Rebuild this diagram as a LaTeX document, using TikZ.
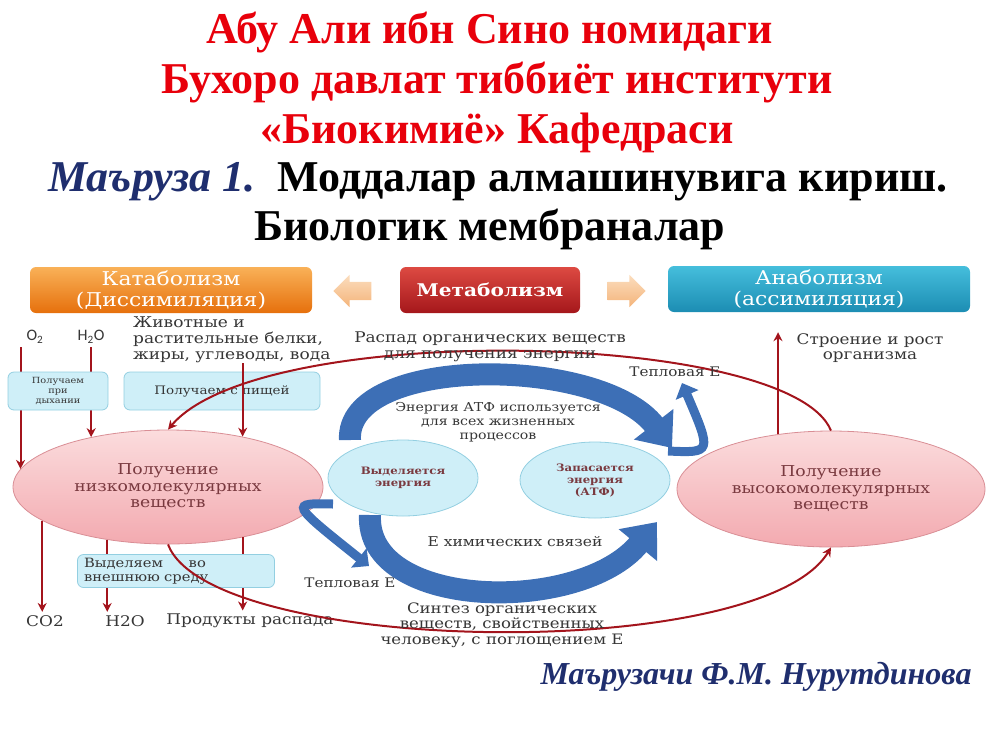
\documentclass[tikz,border=0pt]{standalone}
\usepackage{fontspec}
\setmainfont{Liberation Serif}
\newfontfamily\diagfont[FakeStretch=1.15]{DejaVu Serif}
\newfontfamily\chemfont{Carlito}
\usepackage{xcolor}
\definecolor{titlered}{HTML}{E8000B}
\definecolor{navy}{HTML}{1F2E6E}
\definecolor{ink}{HTML}{363636}
\definecolor{maroon}{HTML}{7A3A40}
\definecolor{catTop}{HTML}{F9B158}
\definecolor{catBot}{HTML}{E6700C}
\definecolor{metTop}{HTML}{DD4A42}
\definecolor{metBot}{HTML}{A5171B}
\definecolor{anaTop}{HTML}{45BEDC}
\definecolor{anaBot}{HTML}{1C8DB3}
\definecolor{paleTop}{HTML}{FBDDBE}
\definecolor{paleBot}{HTML}{F4B47A}
\definecolor{skyFill}{HTML}{CFEFF8}
\definecolor{skyLine}{HTML}{93CFE1}
\definecolor{pinkTop}{HTML}{FBDCDD}
\definecolor{pinkBot}{HTML}{F3AAB0}
\definecolor{pinkLine}{HTML}{D98E95}
\definecolor{wineLine}{HTML}{A3141C}
\definecolor{arcBlue}{HTML}{3D6FB6}
\usepackage{tikz}
\usetikzlibrary{shapes.geometric, shapes.arrows, arrows.meta, positioning, calc}

\begin{document}
\begin{tikzpicture}[
    x=1pt, y=-1pt,
    font=\diagfont\fontsize{14.7}{15.5}\selectfont, text=ink,
    >=Stealth,
    headbox/.style={rounded corners=6pt, minimum height=46pt, align=center, text=white, draw=none,
                    font=\diagfont\fontsize{19}{20.5}\selectfont},
    palearrow/.style={single arrow, minimum height=38pt, inner xsep=0pt, inner ysep=9pt,
                      single arrow head extend=7pt, top color=paleTop, bottom color=paleBot, draw=none},
    skybox/.style={draw=skyLine, fill=skyFill, rounded corners=6pt, line width=0.8pt, align=center,
                   font=\diagfont\fontsize{8.5}{10}\selectfont},
    pinkell/.style={ellipse, draw=pinkLine, line width=0.8pt, top color=pinkTop, bottom color=pinkBot,
                    align=center, text=maroon, inner sep=0pt, font=\diagfont\fontsize{15}{16.5}\selectfont},
    skyell/.style={ellipse, draw=skyLine, line width=0.8pt, fill=skyFill, minimum width=150pt,
                   minimum height=76pt, align=center, text=maroon, inner sep=0pt,
                   font=\diagfont\bfseries\fontsize{10.2}{12}\selectfont},
    redarr/.style={->, draw=wineLine, line width=2pt, >={Stealth[length=9pt, width=9pt]}},
    bigblue/.style={draw=arcBlue, line width=22pt, -{Triangle[length=30pt, width=48pt]}},
    smallblue/.style={draw=arcBlue, line width=9pt, -{Triangle[length=13pt, width=24pt]}},
    titleline/.style={font=\bfseries\fontsize{44}{46}\selectfont, text=titlered}
]
\useasboundingbox (0,0) rectangle (1000,750);

% ── Title ──
\node[titleline] (t1) at (490, 32) {Абу Али ибн Сино номидаги};
\node[titleline] (t2) at (497, 82) {Бухоро давлат тиббиёт институти};
\node[titleline] (t3) at (497, 133) {«Биокимиё» Кафедраси};
\node[font=\bfseries\fontsize{44}{46}\selectfont, text=black] (t4) at (498, 182)
     {{\color{navy}\itshape Маъруза 1.}\ \ Моддалар алмашинувига кириш.};
\node[font=\bfseries\fontsize{44}{46}\selectfont, text=black] (t5) at (490, 229) {Биологик мембраналар};

% ── Header boxes ──
\node[headbox, minimum width=282pt, top color=catTop, bottom color=catBot] (cat) at (171, 290)
     {Катаболизм\\(Диссимиляция)};
\node[headbox, minimum width=180pt, top color=metTop, bottom color=metBot,
      font=\diagfont\bfseries\fontsize{17.5}{20}\selectfont] (met) at (490, 290) {Метаболизм};
\node[headbox, minimum width=302pt, top color=anaTop, bottom color=anaBot] (ana) at (819, 289)
     {Анаболизм\\(ассимиляция)};
\node[palearrow, shape border rotate=180] (la) at (357, 291) {};
\node[palearrow] (ra) at (622, 291) {};

% ── Ellipses ──
\node[pinkell, minimum width=310pt, minimum height=114pt] (loE) at (168, 487)
     {Получение\\низкомолекулярных\\веществ};
\node[pinkell, minimum width=308pt, minimum height=116pt] (hiE) at (831, 489)
     {Получение\\высокомолекулярных\\веществ};
\node[skyell] (rel) at (403, 478) {Выделяется\\энергия};
\node[skyell] (sto) at (595, 480) {Запасается\\энергия\\(АТФ)};

% ── Left inputs ──
\node[font=\chemfont\fontsize{16}{18}\selectfont] (o2) at (35, 337) {O\textsubscript{2}};
\node[font=\chemfont\fontsize{16}{18}\selectfont] (h2o) at (91, 337) {H\textsubscript{2}O};
\node[anchor=north west, align=left, inner sep=0pt, font=\diagfont\fontsize{14.8}{16}\selectfont] (food)
     at (133, 317) {Животные и\\растительные белки,\\жиры, углеводы, вода};
\draw[redarr] (o2.south -| loE.173) -- (loE.173);
\draw[redarr] (h2o.south -| loE.147) -- (loE.147);
\node[skybox, minimum width=100pt, minimum height=38pt] (breath) at (58, 391) {Получаем\\при\\дыхании};
\node[skybox, minimum width=196pt, minimum height=38pt, font=\diagfont\fontsize{11.7}{13}\selectfont]
     (meal) at (222, 391) {Получаем с пищей};
\draw[redarr] (food.south -| loE.34) -- (loE.34);

% ── Left outputs ──
\node (co2) at (45, 621) {CO2};
\node (h2ob) at (125, 621) {H2O};
\node (prod) at (250, 621) {Продукты распада};
\draw[redarr] (loE.195) -- (loE.195 |- co2.north);
\draw[redarr] (loE.221) -- (loE.221 |- co2.north);
\draw[redarr] (loE.326) -- (loE.326 |- prod.north);
\node[skybox, minimum width=197pt, minimum height=33pt, text width=184pt, align=left,
      font=\diagfont\fontsize{12.8}{14}\selectfont]
     (outbox) at (176, 571) {Выделяем\hspace{2em}во\\внешнюю среду};

% ── Anabolism side ──
\node[align=center, font=\diagfont\fontsize{14.6}{15.5}\selectfont] (grow) at (870, 348)
     {Строение и рост\\организма};
\draw[redarr, shorten >=20pt] (hiE.134) -- (hiE.134 |- ana.south);

% ── Long red arcs ──
\draw[redarr] (hiE.north) .. controls (790, 330) and (260, 320) .. (loE.north);
\draw[redarr] (loE.south) .. controls (210, 655) and (760, 665) .. (hiE.south);

% ── Centre texts ──
\node[align=center] (decay) at (490, 347) {Распад органических веществ\\для получения энергии};
\node[font=\diagfont\fontsize{13.2}{15}\selectfont] (heatR) at (675, 372) {Тепловая Е};
\node[align=center, font=\diagfont\fontsize{12.3}{14}\selectfont] (atp) at (498, 422)
     {Энергия АТФ используется\\для всех жизненных\\процессов};
\node[font=\diagfont\fontsize{13.5}{15}\selectfont] (chem) at (515, 542) {Е химических связей};
\node[font=\diagfont\fontsize{13.2}{15}\selectfont] (heatL) at (350, 583) {Тепловая Е};
\node[align=center, font=\diagfont\fontsize{14.4}{15.5}\selectfont] (synth) at (502, 625)
     {Синтез органических\\веществ, свойственных\\человеку, с поглощением Е};

% ── Blue cycle arrows ──
\coordinate (topA) at (350, 440);
\coordinate (topB) at (672, 448);
\coordinate (botA) at (370, 515);
\coordinate (botB) at (657, 522);
\draw[bigblue] (topA) .. controls (345, 355) and (600, 355) .. (topB);
\draw[bigblue] (botA) .. controls (365, 610) and (580, 615) .. (botB);

\coordinate (jR) at (668, 451);
\coordinate (jRtip) at (682, 383);
\coordinate (jL) at (333, 504);
\coordinate (jLtip) at (369, 566);
\draw[smallblue] (jR) .. controls (712, 453) .. (jRtip);
\draw[smallblue] (jL) .. controls (290, 503) .. (jLtip);

% ── Lecturer ──
\node[font=\bfseries\itshape\fontsize{32}{34}\selectfont, text=navy] (lect) at (756, 677)
     {Маърузачи Ф.М. Нурутдинова};

\end{tikzpicture}
\end{document}
